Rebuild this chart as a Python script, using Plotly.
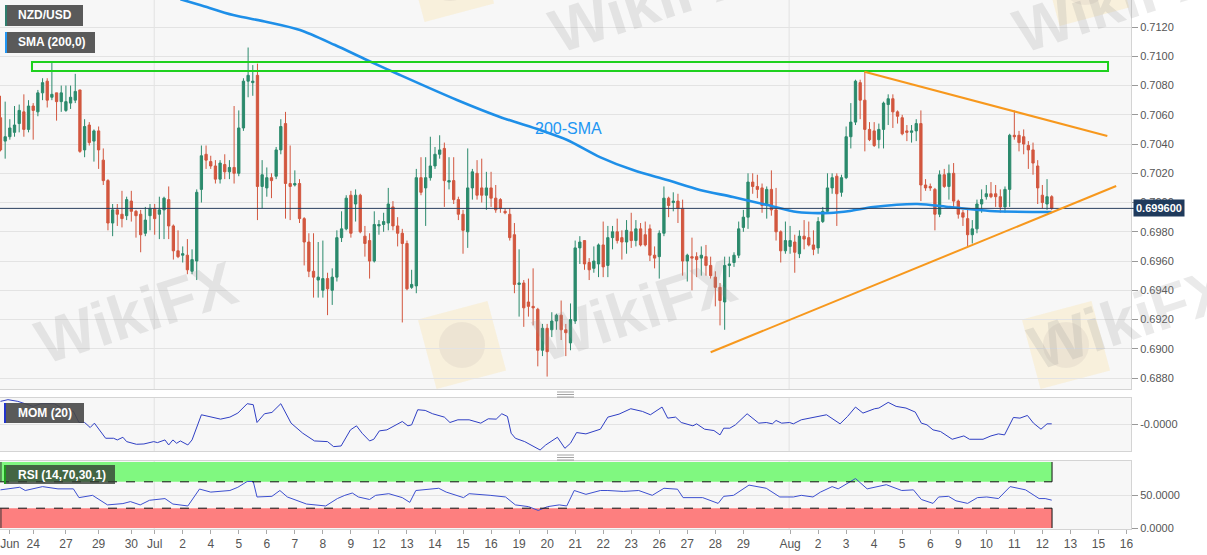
import math
import plotly.graph_objects as go

# ---------------- data ----------------
opens = [0.7058,0.7042,0.7045,0.7048,0.7054,0.7062,0.7050,0.7066,0.7062,0.7075,
0.7083,0.7072,0.7075,0.7069,0.7063,0.7068,0.7070,0.7077,0.7036,0.7053,
0.7042,0.7049,0.7029,0.7015,0.6986,0.6995,0.6992,0.6991,0.7001,0.6994,
0.6992,0.6979,0.6991,0.6996,0.6992,0.6995,0.7002,0.6984,0.6967,0.6964,
0.6964,0.6953,0.6960,0.7009,0.7033,0.7028,0.7025,0.7016,0.7026,0.7021,
0.7024,0.7020,0.7051,0.7083,0.7082,0.7087,0.7011,0.7010,0.7017,0.7018,
0.7036,0.7054,0.7013,0.7012,0.7013,0.6989,0.6973,0.6953,0.6947,0.6940,
0.6948,0.6940,0.6949,0.6976,0.6982,0.7005,0.6999,0.7005,0.6977,0.6974,
0.6960,0.6984,0.6985,0.6986,0.6997,0.6984,0.6979,0.6972,0.6942,0.6943,
0.7017,0.7010,0.7017,0.7025,0.7033,0.7037,0.7014,0.7015,0.7002,0.6992,
0.6980,0.7010,0.7020,0.7010,0.7005,0.7010,0.7003,0.7002,0.6994,0.6992,
0.6978,0.6944,0.6945,0.6932,0.6929,0.6927,0.6899,0.6914,0.6913,0.6919,
0.6923,0.6913,0.6904,0.6919,0.6969,0.6974,0.6959,0.6955,0.6958,0.6971,
0.6957,0.6976,0.6980,0.6976,0.6973,0.6980,0.6974,0.6982,0.6978,0.6982,
0.6964,0.6963,0.6979,0.7003,0.7000,0.7001,0.6996,0.6960,0.6963,0.6963,
0.6962,0.6963,0.6957,0.6949,0.6942,0.6932,0.6957,0.6959,0.6964,0.6983,
0.6990,0.7014,0.7011,0.7010,0.6998,0.7009,0.6995,0.6980,0.6967,0.6970,
0.6973,0.6965,0.6977,0.6976,0.6971,0.6969,0.6987,0.6994,0.7010,0.7018,
0.7007,0.7017,0.7045,0.7055,0.7082,0.7070,0.7050,0.7049,0.7043,0.7050,
0.7067,0.7071,0.7062,0.7058,0.7049,0.7048,0.7049,0.7054,0.7012,0.7011,
0.7009,0.6992,0.7019,0.7011,0.7020,0.7001,0.6993,0.6989,0.6978,0.6982,
0.6999,0.7004,0.7006,0.7006,0.7004,0.6997,0.7009,0.7046,0.7046,0.7045,
0.7039,0.7036,0.7025,0.7005,0.6999,0.7004]

highs = [0.7073,0.7069,0.7057,0.7066,0.7067,0.7074,0.7070,0.7068,0.7077,0.7085,
0.7085,0.7096,0.7075,0.7080,0.7080,0.7080,0.7088,0.7077,0.7057,0.7055,
0.7050,0.7052,0.7037,0.7016,0.6999,0.6999,0.7008,0.7004,0.7008,0.6995,
0.6995,0.6997,0.6999,0.6999,0.7004,0.7004,0.7011,0.6985,0.6981,0.6970,
0.6975,0.6968,0.7009,0.7039,0.7039,0.7032,0.7029,0.7029,0.7033,0.7029,
0.7066,0.7063,0.7085,0.7106,0.7094,0.7095,0.7029,0.7024,0.7020,0.7038,
0.7057,0.7062,0.7039,0.7022,0.7016,0.6990,0.6979,0.6979,0.6973,0.6974,
0.6952,0.6955,0.6981,0.6994,0.7005,0.7008,0.7009,0.7006,0.6984,0.6979,
0.6994,0.6988,0.6993,0.7010,0.7001,0.6990,0.6982,0.6974,0.6954,0.7023,
0.7031,0.7031,0.7045,0.7038,0.7046,0.7041,0.7031,0.7031,0.7004,0.6995,
0.7037,0.7023,0.7029,0.7030,0.7021,0.7021,0.7012,0.7003,0.6996,0.6996,
0.6986,0.6968,0.6947,0.6948,0.6955,0.6928,0.6917,0.6917,0.6925,0.6924,
0.6933,0.6917,0.6931,0.6974,0.6977,0.6974,0.6962,0.6970,0.6972,0.6987,
0.6984,0.6984,0.6989,0.6981,0.6988,0.6993,0.6988,0.6986,0.6987,0.6985,
0.6970,0.6981,0.7011,0.7004,0.7007,0.7006,0.7002,0.6965,0.6976,0.6966,
0.6970,0.6971,0.6963,0.6953,0.6945,0.6963,0.6963,0.6966,0.6987,0.6995,
0.7020,0.7020,0.7019,0.7013,0.7011,0.7022,0.7010,0.6981,0.6987,0.6984,
0.6978,0.6981,0.6988,0.6987,0.6981,0.6990,0.6997,0.7020,0.7020,0.7020,
0.7019,0.7052,0.7068,0.7084,0.7084,0.70895,0.7055,0.7055,0.7054,0.7069,
0.7074,0.7074,0.7063,0.7060,0.7053,0.7053,0.7057,0.7063,0.7016,0.7013,
0.7010,0.7022,0.7023,0.7026,0.7027,0.7002,0.6995,0.6995,0.6988,0.7002,
0.7009,0.7012,0.7014,0.7012,0.7009,0.7011,0.7047,0.7063,0.7049,0.7050,
0.7042,0.7041,0.7029,0.7012,0.7016,0.7005]

lows = [0.7035,0.7030,0.7043,0.7045,0.7048,0.7045,0.7048,0.7043,0.7059,0.7070,
0.7065,0.7070,0.7056,0.7062,0.7062,0.7064,0.7068,0.7034,0.7031,0.7039,
0.7028,0.7023,0.7012,0.6981,0.6977,0.6984,0.6983,0.6988,0.6987,0.6976,
0.6966,0.6977,0.6981,0.6978,0.6975,0.6975,0.6975,0.6961,0.6962,0.6959,
0.6951,0.6951,0.6947,0.7000,0.7023,0.7023,0.7013,0.7013,0.7016,0.7016,
0.7013,0.7018,0.7049,0.7072,0.7073,0.6988,0.6996,0.7004,0.7003,0.7016,
0.7033,0.6989,0.6988,0.7011,0.6986,0.6957,0.6949,0.6935,0.6935,0.6935,
0.6923,0.6930,0.6946,0.6973,0.6981,0.6976,0.6987,0.6979,0.6963,0.6948,
0.6959,0.6978,0.6980,0.6981,0.6981,0.6970,0.6918,0.6940,0.6941,0.6938,
0.7005,0.6984,0.7015,0.7023,0.7030,0.6997,0.7009,0.6999,0.6988,0.6965,
0.6969,0.7002,0.7002,0.7000,0.6995,0.6997,0.6993,0.6993,0.6992,0.6974,
0.6938,0.6922,0.6915,0.6922,0.6916,0.6888,0.6895,0.6881,0.6908,0.6913,
0.6906,0.6895,0.6899,0.6917,0.6958,0.6954,0.6947,0.6952,0.6949,0.6949,
0.6949,0.6968,0.6972,0.6961,0.6965,0.6969,0.6970,0.6970,0.6970,0.6960,
0.6955,0.6948,0.6977,0.6990,0.6994,0.6986,0.6950,0.6946,0.6940,0.6949,
0.6950,0.6950,0.6948,0.6929,0.6916,0.6913,0.6949,0.6956,0.6962,0.6980,
0.6982,0.7006,0.7003,0.6993,0.6989,0.6991,0.6974,0.6959,0.6965,0.6965,
0.6952,0.6962,0.6968,0.6970,0.6964,0.6965,0.6986,0.6993,0.7006,0.6984,
0.7004,0.7016,0.7037,0.7053,0.7057,0.7035,0.7042,0.7038,0.7037,0.7037,
0.7053,0.7051,0.7054,0.7046,0.7042,0.7041,0.7042,0.7001,0.7008,0.7008,
0.6981,0.6990,0.7010,0.7002,0.6997,0.6989,0.6984,0.6970,0.6972,0.6979,
0.6993,0.7002,0.7003,0.6997,0.6993,0.6993,0.6997,0.7043,0.7035,0.7033,
0.7023,0.7019,0.6999,0.6996,0.6995,0.6995]

closes = [0.7036,0.7045,0.7051,0.7053,0.7063,0.7050,0.7066,0.7063,0.7075,0.7082,
0.7070,0.7074,0.7069,0.7075,0.7069,0.7072,0.7076,0.7035,0.7052,0.7041,
0.7049,0.7036,0.7015,0.6986,0.6995,0.6992,0.6989,0.7002,0.6994,0.6991,
0.6978,0.6988,0.6996,0.6989,0.6995,0.7003,0.6984,0.6967,0.6963,0.6965,
0.6954,0.6961,0.7007,0.7032,0.7029,0.7025,0.7016,0.7027,0.7021,0.7024,
0.7020,0.7051,0.7083,0.7087,0.7083,0.7011,0.7019,0.7017,0.7015,0.7036,
0.7052,0.7013,0.7011,0.7013,0.6989,0.6973,0.6953,0.6949,0.6949,0.6948,
0.6941,0.6949,0.6976,0.6982,0.7003,0.6979,0.7005,0.6980,0.6972,0.6960,
0.6985,0.6985,0.6987,0.6999,0.6984,0.6979,0.6972,0.6941,0.6944,0.7017,
0.7007,0.7017,0.7025,0.7033,0.7036,0.7015,0.7015,0.7002,0.6992,0.6981,
0.7010,0.7021,0.7005,0.7005,0.7010,0.7003,0.6995,0.6996,0.6993,0.6976,
0.6944,0.6945,0.6928,0.6929,0.6928,0.6899,0.6914,0.6898,0.6919,0.6923,
0.6913,0.6911,0.6920,0.6969,0.6973,0.6958,0.6954,0.6960,0.6971,0.6956,
0.6976,0.6980,0.6974,0.6973,0.6981,0.6974,0.6982,0.6971,0.6971,0.6964,
0.6962,0.6979,0.7003,0.6998,0.7001,0.6996,0.6960,0.6964,0.6962,0.6961,
0.6964,0.6957,0.6950,0.6942,0.6933,0.6957,0.6958,0.6964,0.6982,0.6990,
0.7014,0.7011,0.7009,0.6998,0.7009,0.6995,0.6980,0.6967,0.6974,0.6974,
0.6966,0.6977,0.6975,0.6971,0.6968,0.6987,0.6994,0.7010,0.7017,0.7006,
0.7017,0.7045,0.7055,0.7083,0.7070,0.7050,0.7043,0.7039,0.7050,0.7068,
0.7071,0.7062,0.7059,0.7047,0.7048,0.7049,0.7054,0.7012,0.7010,0.7010,
0.6992,0.7019,0.7011,0.7020,0.7001,0.6992,0.6990,0.6978,0.6982,0.6999,
0.7002,0.7006,0.7004,0.7004,0.6997,0.7009,0.7046,0.7045,0.7041,0.7040,
0.7036,0.7027,0.7010,0.7000,0.7004,0.6996]

bars = list(range(len(closes)))

# 200-SMA curve (bar index, value)
sma_pts = [(38.5,0.71390),(42.7,0.71351),(49.8,0.71282),(57.0,0.71235),(64.1,0.71180),
           (71.6,0.71077),(78.4,0.70975),(85.5,0.70872),(97.7,0.70701),(106.9,0.70585),
           (115.5,0.70496),(121.3,0.70428),(128.3,0.70311),(135.4,0.70222),(142.7,0.70154),
           (149.7,0.70086),(156.8,0.70038),(164.1,0.69983),(170.5,0.69935),(177.5,0.69929),
           (181.8,0.69942),(186.8,0.69969),(196.2,0.69990),(203.2,0.69969),(211.8,0.69942),
           (225.0,0.69935)]

mom_pts = [(0.0,0.0068),(1.6,0.0073),(3.7,0.0068),(7.0,0.0053),(8.6,0.0061),(11.5,0.0061),
(13.1,0.0048),(15.6,0.0038),(16.8,0.0005),(18.0,0.0005),(19.2,-0.0010),(20.1,0.0003),
(22.5,-0.0042),(24.2,-0.0042),(25.0,-0.0047),(26.2,-0.0039),(27.0,-0.0052),(29.1,-0.0060),
(30.7,-0.0059),(32.8,-0.0052),(33.6,-0.0055),(35.2,-0.0047),(36.0,-0.0062),(36.9,-0.0047),
(37.7,-0.0057),(38.5,-0.0050),(40.1,-0.0062),(41.0,-0.0047),(43.0,0.0028),(45.0,0.0021),
(47.1,0.0015),(49.1,0.0021),(50.8,0.0033),(52.8,0.0061),(54.1,0.0058),(54.9,0.0005),
(56.5,0.0031),(58.1,0.0035),(60.0,0.0061),(62.2,0.0003),(64.7,-0.0027),(67.2,-0.0050),
(70.0,-0.0052),(71.3,-0.0067),(72.9,-0.0065),(74.9,-0.0017),(76.2,-0.0005),(77.4,-0.0027),
(79.0,-0.0050),(79.9,-0.0045),(81.1,-0.0020),(82.7,-0.0017),(86.0,0.0008),(87.2,-0.0005),
(88.0,-0.0002),(89.3,0.0043),(90.9,0.0041),(92.5,0.0031),(95.0,0.0021),(96.2,0.0005),
(97.9,0.0013),(100.3,0.0013),(102.8,0.0003),(104.4,0.0016),(106.1,0.0015),(107.3,0.0031),
(108.5,0.0023),(109.3,-0.0027),(110.2,-0.0042),(112.2,-0.0052),(114.7,-0.0072),(115.5,-0.0077),
(116.7,-0.0062),(119.2,-0.0039),(120.8,-0.0072),(122.0,-0.0057),(123.3,-0.0025),(125.3,-0.0029),
(128.4,-0.0015),(130.0,0.0021),(132.4,0.0030),(134.9,0.0046),(137.4,0.0038),(139.1,0.0028),
(141.6,0.0051),(142.8,0.0018),(144.5,0.0021),(145.7,0.0005),(148.2,-0.0005),(149.0,0.0001),
(150.7,-0.0015),(152.7,-0.0019),(154.0,-0.0032),(154.8,-0.0012),(156.1,-0.0012),(157.3,-0.0002),
(159.8,0.0031),(162.3,0.0003),(163.9,0.0005),(165.2,0.0001),(166.0,0.0011),(167.2,0.0003),
(168.9,0.0005),(169.7,0.0001),(171.4,0.0013),(174.7,0.0021),(176.8,0.0028),(179.7,0.0001),
(181.3,0.0023),(183.0,0.0051),(184.6,0.0033),(187.1,0.0046),(188.0,0.0048),(190.0,0.0065),
(191.7,0.0053),(193.8,0.0048),(195.8,0.0036),(197.1,0.0003),(198.3,-0.0002),(199.6,-0.0017),
(201.2,-0.0022),(203.7,-0.0045),(206.2,-0.0035),(207.4,-0.0045),(210.3,-0.0045),(212.0,-0.0035),
(213.6,-0.0029),(214.9,-0.0032),(216.8,0.0020),(218.2,0.0018),(219.8,0.0026),(221.1,0.0003),
(222.7,-0.0015),(224.0,0.0001),(225.0,0.0001)]

rsi_pts = [(0,57.8),(4.1,61.7),(5.3,56.8),(9.0,62.7),(12.3,59.3),(15.6,59.3),(16.8,46),(19.7,49.5),
(22.9,35),(26.2,37),(27.8,40),(29.9,35),(31.9,42),(35.2,44.6),(36.9,36.3),(40.1,33.4),(42.6,59),
(45.0,54.4),(49.1,56.8),(50.8,61.7),(52.8,70.5),(54.1,70.5),(54.9,47),(58.1,48),(59.8,56.8),
(61.4,47),(65.5,36.3),(69.6,33.4),(72.1,44.6),(73.7,49.5),(75.3,53),(76.6,47),(79.0,43.2),
(80.3,49.5),(83.1,52),(86.0,46),(87.6,38.8),(88.9,56.8),(93.8,60.2),(95.4,54.4),(99.1,46),
(100.3,52),(104.8,49.5),(108.1,47),(110.2,35),(113.0,32.4),(115.1,26.6),(117.1,32.4),(119.6,35),
(121.2,33.4),(122.8,56.8),(125.3,51),(128.4,56.8),(130.0,56.8),(133.3,55.4),(136.6,56.8),
(139.5,49.5),(142.0,60.2),(144.9,58.8),(146.1,46),(150.3,46),(153.6,37.3),(154.8,48),(156.9,49.5),
(160.2,65),(162.3,61.7),(163.9,60.2),(166.8,47),(169.7,47),(171.4,49.5),(173.9,47),(175.5,54.4),
(178.0,62.7),(179.3,59.3),(183.0,74.9),(185.5,59.3),(189.6,65.6),(192.9,56.8),(195.4,57.8),
(197.1,43.2),(199.6,37.3),(200.8,47),(202.9,48),(204.5,41.2),(207.0,37.3),(209.1,46),(211.1,47),
(213.6,44.6),(216.1,62.7),(219.4,57.8),(222.3,44.6),(223.6,44.6),(225.0,42.2)]

# drawn studies (bar index / price)
resist_x = [6.74, 237.05]
resist_y = [0.70899, 0.70961]
upper_tl_x = [184.9, 236.9]
upper_tl_y = [0.70894, 0.70455]
lower_tl_x = [152.0, 238.8]
lower_tl_y = [0.68976, 0.70113]
last_price = 0.6996

tick_pos = [2.0,7,14,21,28,33,39,45,51,57,63,69,75,81,87,93,99,105,111,117,123,129,135,141,
            147,153,159,169,175,181,187,193,199,205,211,217,223,229,235,241]
tick_txt = ["Jun","24","27","29","30","Jul","2","4","5","6","7","8","9","12","13","14","15","16",
            "19","20","21","22","23","26","27","28","29","Aug","2","3","4","5","6","9","10","11",
            "12","13","15","16"]
month_lines = [32.9, 168.8]

# ---------------- figure ----------------
W, H = 1207, 555
PW, PH = 1131.0, 529.0
XR = [-0.107, 241.97]
FONT = "Liberation Sans, Arial, sans-serif"

def fx(px):
    return px / PW

def fy(py):
    return 1 - py / PH

fig = go.Figure()

fig.add_trace(go.Candlestick(
    x=bars, open=opens, high=highs, low=lows, close=closes,
    increasing=dict(line=dict(color="#2b8a6c", width=1), fillcolor="#2b8a6c"),
    decreasing=dict(line=dict(color="#d2573f", width=1), fillcolor="#d2573f"),
    xaxis="x", yaxis="y", hoverinfo="skip"))

fig.add_trace(go.Scatter(x=[p[0] for p in sma_pts], y=[p[1] for p in sma_pts], mode="lines",
                         line=dict(color="#1e8fe8", width=2.6, shape="spline", smoothing=0.8),
                         xaxis="x", yaxis="y", hoverinfo="skip"))

fig.add_trace(go.Scatter(x=[p[0] for p in mom_pts], y=[p[1] for p in mom_pts], mode="lines",
                         line=dict(color="#2f3fc4", width=1), xaxis="x2", yaxis="y2", hoverinfo="skip"))

fig.add_trace(go.Scatter(x=[p[0] for p in rsi_pts], y=[p[1] for p in rsi_pts], mode="lines",
                         line=dict(color="#3c4fd0", width=1), xaxis="x3", yaxis="y3", hoverinfo="skip"))

axis_line = dict(showline=True, mirror=True, linecolor="#d4d4d4", linewidth=1, zeroline=False)
tickf = dict(size=11, color="#555", family=FONT)

fig.update_layout(
    width=W, height=H, margin=dict(l=0, r=76, t=0, b=26),
    paper_bgcolor="white", plot_bgcolor="#f7f7f7", showlegend=False,
    font=dict(family=FONT),
    xaxis=dict(domain=[0, 1], anchor="y", range=XR, showticklabels=False, showgrid=False,
               rangeslider=dict(visible=False), **axis_line),
    yaxis=dict(domain=[fy(389), 1], anchor="x", side="right", range=[0.68725, 0.71385],
               tick0=0.688, dtick=0.002, tickformat=".4f", gridcolor="#e3e3e3",
               ticks="outside", ticklen=6, tickcolor="#999", tickfont=tickf, **axis_line),
    xaxis2=dict(domain=[0, 1], anchor="y2", range=XR, matches="x", showticklabels=False,
                showgrid=False, **axis_line),
    yaxis2=dict(domain=[fy(451), fy(398)], anchor="x2", side="right", range=[-0.0080, 0.0078],
                tickvals=[0], ticktext=["-0.0000"], gridcolor="#e3e3e3", ticks="outside",
                ticklen=6, tickcolor="#999", tickfont=tickf, **axis_line),
    xaxis3=dict(domain=[0, 1], anchor="y3", range=XR, matches="x", tickvals=tick_pos,
                ticktext=tick_txt, showgrid=False, ticks="outside", ticklen=4, tickcolor="#aaa",
                tickfont=dict(size=12, color="#555", family=FONT), **axis_line),
    yaxis3=dict(domain=[0, fy(461)], anchor="x3", side="right", range=[-1.5, 101.5],
                tickvals=[0, 50], ticktext=["0.0000", "50.0000"], gridcolor="#e3e3e3",
                ticks="outside", ticklen=6, tickcolor="#999", tickfont=tickf, **axis_line),
)

shapes = []
# month separators in every panel
for m in month_lines:
    for xr, yr in (("x", "y domain"), ("x2", "y2 domain"), ("x3", "y3 domain")):
        shapes.append(dict(type="line", xref=xr, yref=yr, x0=m, x1=m, y0=0, y1=1,
                           line=dict(color="#e2e2e2", width=1), layer="below"))

# RSI bands
band_end = 225.07
shapes.append(dict(type="rect", xref="x3", yref="y3", x0=XR[0], x1=band_end, y0=70, y1=100,
                   fillcolor="#80f880", line=dict(width=0), layer="below"))
shapes.append(dict(type="rect", xref="x3", yref="y3", x0=XR[0], x1=band_end, y0=0, y1=30,
                   fillcolor="#fd7f7f", line=dict(width=0), layer="below"))
for lv in (70, 30):
    shapes.append(dict(type="line", xref="x3", yref="y3", x0=XR[0], x1=band_end, y0=lv, y1=lv,
                       line=dict(color="#111", width=1, dash="dash")))
for (a, b) in ((70, 100), (0, 30)):
    shapes.append(dict(type="line", xref="x3", yref="y3", x0=band_end, x1=band_end, y0=a, y1=b,
                       line=dict(color="#111", width=1)))
    shapes.append(dict(type="line", xref="x3", yref="y3", x0=0.1, x1=0.1, y0=a, y1=b,
                       line=dict(color="#333", width=1)))

# last price line
shapes.append(dict(type="line", xref="paper", yref="y", x0=0, x1=1.004, y0=last_price, y1=last_price,
                   line=dict(color="#2a3f5f", width=1)))

# resistance zone and triangle
shapes.append(dict(type="rect", xref="x", yref="y", x0=resist_x[0], x1=resist_x[1],
                   y0=resist_y[0], y1=resist_y[1], line=dict(color="#1fd11f", width=2),
                   fillcolor="rgba(0,0,0,0)"))
shapes.append(dict(type="line", xref="x", yref="y", x0=upper_tl_x[0], x1=upper_tl_x[1],
                   y0=upper_tl_y[0], y1=upper_tl_y[1], line=dict(color="#f7981d", width=2)))
shapes.append(dict(type="line", xref="x", yref="y", x0=lower_tl_x[0], x1=lower_tl_x[1],
                   y0=lower_tl_y[0], y1=lower_tl_y[1], line=dict(color="#f7981d", width=2)))

# label boxes
def label_box(x0, y0, x1, y1, stripe, fill="rgba(72,72,72,0.9)"):
    shapes.append(dict(type="rect", xref="paper", yref="paper", x0=fx(x0), x1=fx(x1),
                       y0=fy(y1), y1=fy(y0), fillcolor=fill, line=dict(width=0)))
    shapes.append(dict(type="rect", xref="paper", yref="paper", x0=fx(x0), x1=fx(x0 + 2),
                       y0=fy(y1), y1=fy(y0), fillcolor=stripe, line=dict(width=0)))

label_box(5, 5, 83, 26, "#2f7d6d")
label_box(5, 32, 95, 53, "#2196f3")
label_box(4, 403, 84, 423, "#2233cc")
label_box(4, 465, 115, 484, "#1e9a1e", fill="rgba(50,60,50,0.78)")

# panel handles
for yy in (392, 455):
    for k in range(3):
        shapes.append(dict(type="line", xref="paper", yref="paper", x0=fx(557), x1=fx(574),
                           y0=fy(yy + 2.5 * k), y1=fy(yy + 2.5 * k), line=dict(color="#8a8a8a", width=0.8)))

# faint watermark logos (rotated squares)
def logo(cx, cy, s, ang):
    a = math.radians(ang)
    pts = []
    for dx, dy in ((-1, -1), (1, -1), (1, 1), (-1, 1)):
        rx = dx * s / 2 * math.cos(a) - dy * s / 2 * math.sin(a)
        ry = dx * s / 2 * math.sin(a) + dy * s / 2 * math.cos(a)
        pts.append((fx(cx + rx), fy(cy + ry)))
    path = "M " + " L ".join(f"{px:.5f},{py:.5f}" for px, py in pts) + " Z"
    shapes.append(dict(type="path", xref="paper", yref="paper", path=path,
                       fillcolor="rgba(250,222,150,0.28)", line=dict(width=0), layer="below"))
    r = s * 0.32
    shapes.append(dict(type="circle", xref="paper", yref="paper", x0=fx(cx - r), x1=fx(cx + r),
                       y0=fy(cy + r), y1=fy(cy - r), fillcolor="rgba(190,180,170,0.18)",
                       line=dict(width=0), layer="below"))

logo(462, 345, 72, -15)
logo(1066, 345, 72, -15)
logo(450, -22, 72, -15)
logo(1085, -18, 72, -15)

fig.update_layout(shapes=shapes)

ann = []
def label_text(x, y, txt):
    ann.append(dict(xref="paper", yref="paper", x=fx(x), y=fy(y), xanchor="left", yanchor="middle",
                    text=f"<b>{txt}</b>", showarrow=False,
                    font=dict(color="white", size=12, family=FONT)))

label_text(16, 15.5, "NZD/USD")
label_text(16, 42.5, "SMA (200,0)")
label_text(16, 413, "MOM (20)")
label_text(16, 474.5, "RSI (14,70,30,1)")

ann.append(dict(xref="paper", yref="paper", x=fx(568), y=fy(118), text="200-SMA", showarrow=False,
                font=dict(color="#2196f3", size=16, family=FONT)))

ann.append(dict(xref="paper", yref="y", x=1.0, xshift=2, y=last_price, xanchor="left",
                yanchor="middle", text="<b>0.699600</b>", showarrow=False, bgcolor="#1f3a5c",
                borderpad=2, font=dict(color="white", size=11, family=FONT)))

for cx, cy in ((25, 312), (635, 310), (1240, 318), (650, -66), (1225, -66)):
    ann.append(dict(xref="paper", yref="paper", x=fx(cx), y=fy(cy), text="<b>WikiFX</b>",
                    showarrow=False, textangle=-18,
                    font=dict(color="rgba(150,150,150,0.2)", size=62, family=FONT)))

fig.update_layout(annotations=ann)

fig.write_html("out.html", config={"displayModeBar": False},
               post_script="document.body.style.margin='0';document.body.style.overflow='hidden';")
